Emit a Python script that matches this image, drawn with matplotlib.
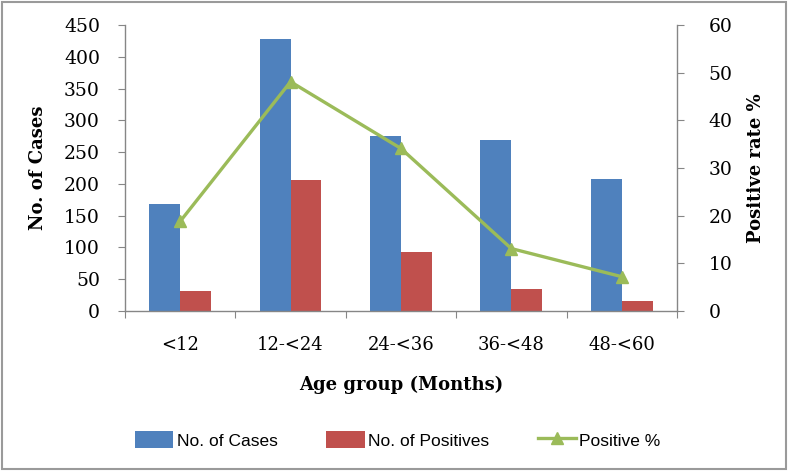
"""
Age-group chart: number of cases / positives (bars) and positive rate (line, right axis).
"""
import matplotlib

matplotlib.use("Agg")
import matplotlib.pyplot as plt
import numpy as np
from matplotlib.lines import Line2D
from matplotlib.patches import Patch, Rectangle

# ---------------------------------------------------------------------------
# Data
# ---------------------------------------------------------------------------
age_groups = ["<12", "12-<24", "24-<36", "36-<48", "48-<60"]
n_cases = [168, 428, 275, 269, 207]
n_positives = [32, 206, 93, 35, 15]
positive_pct = [18.8, 48.1, 34.1, 13.1, 7.2]

BLUE = "#4F81BD"
RED = "#C0504D"
GREEN = "#9BBB59"
AXIS_GREY = "#868686"

SERIF = ["DejaVu Serif"]
SANS = ["Liberation Sans", "DejaVu Sans"]

fig = plt.figure(figsize=(7.88, 4.71), dpi=100)
ax = fig.add_axes([0.1586, 0.3397, 0.7004, 0.6072])
ax2 = ax.twinx()

x = np.arange(len(age_groups))
w = 0.28
ax.bar(x - w / 2, n_cases, width=w, color=BLUE, zorder=2)
ax.bar(x + w / 2, n_positives, width=w, color=RED, zorder=2)
ax2.plot(x, positive_pct, color=GREEN, linewidth=2.4, marker="^",
         markersize=9, zorder=3)

ax.set_xlim(-0.5, len(age_groups) - 0.5)
ax.set_ylim(0, 450)
ax.set_yticks(range(0, 451, 50))
ax2.set_ylim(0, 60)
ax2.set_yticks(range(0, 61, 10))

# category tick marks at the group boundaries, labels centred in between
ax.set_xticks(np.arange(-0.5, len(age_groups)), minor=False)
ax.set_xticklabels([])
ax.set_xticks(x, minor=True)
ax.set_xticklabels(age_groups, minor=True, fontfamily=SERIF, fontsize=13)
ax.tick_params(axis="x", which="minor", length=0, pad=18)
ax.tick_params(axis="x", which="major", length=5, color=AXIS_GREY, direction="out")

for a in (ax, ax2):
    for side in ("top", "right", "left", "bottom"):
        a.spines[side].set_visible(False)
ax.spines["left"].set_visible(True)
ax.spines["bottom"].set_visible(True)
ax2.spines["right"].set_visible(True)
for s in (ax.spines["left"], ax.spines["bottom"], ax2.spines["right"]):
    s.set_color(AXIS_GREY)
    s.set_linewidth(1.0)

ax.tick_params(axis="y", length=5, color=AXIS_GREY, labelsize=13.5, pad=13)
ax2.tick_params(axis="y", length=5, color=AXIS_GREY, labelsize=13.5, pad=18)
for lab in ax.get_yticklabels() + ax2.get_yticklabels():
    lab.set_fontfamily(SERIF)

ax.set_ylabel("No. of Cases", fontfamily=SERIF, fontweight="bold",
              fontsize=13, labelpad=12)
ax2.set_ylabel("Positive rate %", fontfamily=SERIF, fontweight="bold",
               fontsize=13, labelpad=10)
ax.set_xlabel("Age group (Months)", fontfamily=SERIF, fontweight="bold",
              fontsize=13, labelpad=16)

handles = [
    Patch(facecolor=BLUE, label="No. of Cases"),
    Patch(facecolor=RED, label="No. of Positives"),
    Line2D([], [], color=GREEN, linewidth=2.4, marker="^", markersize=8,
           label="Positive %"),
]
fig.legend(handles=handles, loc="center", bbox_to_anchor=(0.505, 0.066), ncol=3,
           frameon=False, prop={"family": SANS, "size": 12.5},
           handlelength=2.2, handleheight=1.1, handletextpad=0.2,
           columnspacing=2.8)

# grey frame around the whole chart
fig.patches.append(Rectangle((0.003, 0.004), 0.994, 0.992, transform=fig.transFigure,
                             fill=False, edgecolor="#9a9a9a", linewidth=1.5))

fig.savefig("out.png", dpi=100)
plt.close(fig)
